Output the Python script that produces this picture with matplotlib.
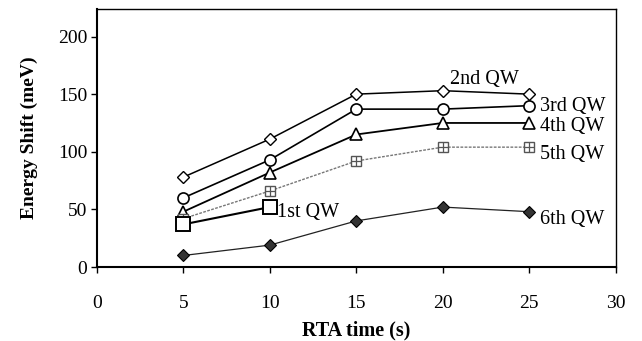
import matplotlib
matplotlib.use("Agg")
import matplotlib.pyplot as plt

rta = [5, 10, 15, 20, 25]
rta_1st = [5, 10]
qw1 = [37, 52]
qw2 = [78, 111, 150, 153, 150]
qw3 = [60, 93, 137, 137, 140]
qw4 = [48, 82, 115, 125, 125]
qw5 = [42, 66, 92, 104, 104]
qw6 = [10, 19, 40, 52, 48]
x_ticks = [0, 5, 10, 15, 20, 25, 30]
y_ticks = [0, 50, 100, 150, 200]

plt.rcParams['font.family'] = ['Liberation Serif', 'DejaVu Serif']

fig = plt.figure(figsize=(6.42, 3.41), dpi=100)
ax = fig.add_axes([0.151, 0.217, 0.808, 0.757])

ax.plot(rta, qw2, color='black', lw=1.1, marker='D', ms=6, mfc='white', mec='black', mew=1.0)
ax.plot(rta, qw3, color='black', lw=1.2, marker='o', ms=8, mfc='white', mec='black', mew=1.2)
ax.plot(rta, qw4, color='black', lw=1.3, marker='^', ms=8, mfc='white', mec='black', mew=1.2)
ax.plot(rta, qw5, color='#777777', lw=1.0, ls=(0, (2, 1)), marker='s', ms=7, mfc='white', mec='#555555', mew=1.0)
ax.plot(rta, qw5, ls='none', marker='+', ms=7, mec='#555555', mew=0.9)
ax.plot(rta_1st, qw1, color='black', lw=1.5, marker='s', ms=10, mfc='white', mec='black', mew=1.4)
ax.plot(rta, qw6, color='#222222', lw=0.9, marker='D', ms=6, mfc='#333333', mec='black', mew=0.8)

fs = 14.5
ax.text(22.4, 163, '2nd QW', fontsize=fs, ha='center', va='center')
ax.text(25.6, 139, '3rd QW', fontsize=fs, ha='left', va='center')
ax.text(25.6, 122, '4th QW', fontsize=fs, ha='left', va='center')
ax.text(25.6, 98, '5th QW', fontsize=fs, ha='left', va='center')
ax.text(25.6, 41, '6th QW', fontsize=fs, ha='left', va='center')
ax.text(10.4, 47, '1st QW', fontsize=fs, ha='left', va='center')

ax.set_xlim(0, 30)
ax.set_ylim(0, 224)
ax.set_xticks(x_ticks)
ax.set_yticks(y_ticks)
ax.tick_params(axis='both', direction='out', length=4, width=1, labelsize=14, pad=1)
ax.tick_params(axis='y', pad=3)
ax.tick_params(axis='x', pad=16)
for side in ['left', 'bottom']:
    ax.spines[side].set_linewidth(1.5)
for side in ['top', 'right']:
    ax.spines[side].set_linewidth(1.0)

ax.set_xlabel('RTA time (s)', fontsize=14.5, fontweight='bold', labelpad=6)
ax.set_ylabel('Energy Shift (meV)', fontsize=14, fontweight='bold', labelpad=14)

fig.savefig('out.png', dpi=100)
